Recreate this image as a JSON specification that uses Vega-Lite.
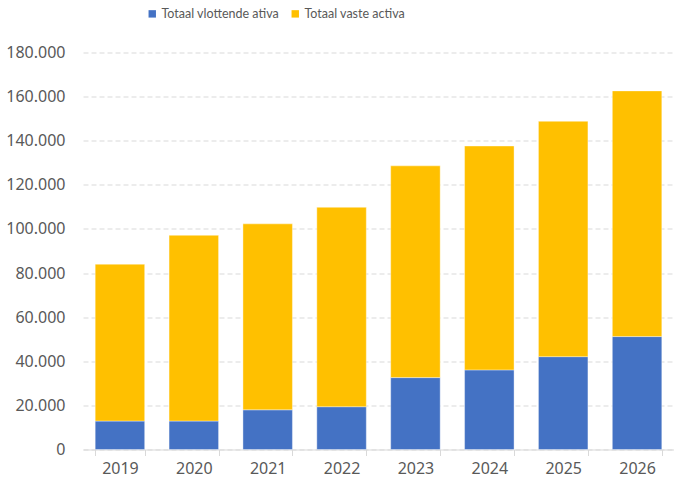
{
  "$schema": "https://vega.github.io/schema/vega-lite/v6.json",
  "autosize": {"type": "none"},
  "width": 591,
  "height": 397,
  "padding": {"left": 83, "top": 52.5, "right": 0, "bottom": 32.5},
  "background": "white",
  "config": {
    "font": "Noto Sans",
    "view": {"stroke": null}
  },
  "data": {
    "values": [
      {"year": "2019", "series": "Totaal vlottende ativa", "value": 12900},
      {"year": "2019", "series": "Totaal vaste activa", "value": 71100},
      {"year": "2020", "series": "Totaal vlottende ativa", "value": 12900},
      {"year": "2020", "series": "Totaal vaste activa", "value": 84200},
      {"year": "2021", "series": "Totaal vlottende ativa", "value": 18000},
      {"year": "2021", "series": "Totaal vaste activa", "value": 84300},
      {"year": "2022", "series": "Totaal vlottende ativa", "value": 19400},
      {"year": "2022", "series": "Totaal vaste activa", "value": 90400},
      {"year": "2023", "series": "Totaal vlottende ativa", "value": 32600},
      {"year": "2023", "series": "Totaal vaste activa", "value": 96000},
      {"year": "2024", "series": "Totaal vlottende ativa", "value": 36100},
      {"year": "2024", "series": "Totaal vaste activa", "value": 101500},
      {"year": "2025", "series": "Totaal vlottende ativa", "value": 42100},
      {"year": "2025", "series": "Totaal vaste activa", "value": 106700},
      {"year": "2026", "series": "Totaal vlottende ativa", "value": 51200},
      {"year": "2026", "series": "Totaal vaste activa", "value": 111400}
    ]
  },
  "mark": {"type": "bar", "stroke": "#ffffff", "strokeOpacity": 0.5, "strokeWidth": 0.75},
  "encoding": {
    "x": {
      "field": "year",
      "type": "ordinal",
      "scale": {"paddingInner": 0.33, "paddingOuter": 0.165},
      "axis": {
        "title": null,
        "labelAngle": 0,
        "labelFontSize": 16,
        "labelColor": "#595959",
        "labelPadding": 5,
        "domainColor": "#d9d9d9",
        "tickColor": "#d9d9d9",
        "tickSize": 6,
        "tickBand": "extent",
        "grid": false
      }
    },
    "y": {
      "field": "value",
      "type": "quantitative",
      "stack": "zero",
      "scale": {"domain": [0, 180000], "nice": false},
      "axis": {
        "title": null,
        "values": [0, 20000, 40000, 60000, 80000, 100000, 120000, 140000, 160000, 180000],
        "labelExpr": "replace(format(datum.value, ',d'), ',', '.')",
        "labelFontSize": 16,
        "labelColor": "#595959",
        "labelPadding": 18,
        "domain": false,
        "ticks": false,
        "grid": true,
        "gridColor": "#d9d9d9",
        "gridDash": [5, 3],
        "gridWidth": 1
      }
    },
    "color": {
      "field": "series",
      "type": "nominal",
      "scale": {
        "domain": ["Totaal vlottende ativa", "Totaal vaste activa"],
        "range": ["#4472C4", "#FFC000"]
      },
      "legend": {
        "title": null,
        "orient": "none",
        "direction": "horizontal",
        "legendX": 63,
        "legendY": -45,
        "symbolType": "square",
        "symbolSize": 55,
        "symbolStrokeWidth": 0,
        "labelFont": "Lato",
        "labelFontSize": 12.5,
        "labelColor": "#595959",
        "labelOffset": 3,
        "columnPadding": 10
      }
    },
    "order": {"field": "series", "sort": "descending"}
  }
}
